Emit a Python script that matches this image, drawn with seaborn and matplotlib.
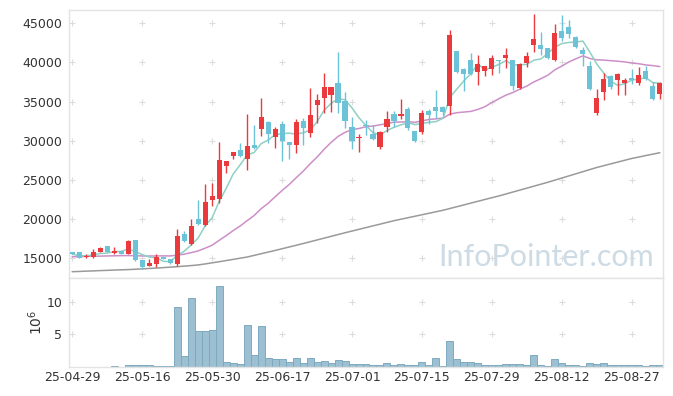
import numpy as np
import pandas as pd
import matplotlib
matplotlib.use("Agg")
import matplotlib.pyplot as plt
import seaborn as sns

# ---------------- data ----------------
holidays = ["2025-05-01", "2025-05-05", "2025-05-06", "2025-06-03", "2025-06-06", "2025-08-15"]
dates = pd.bdate_range("2025-04-29", "2025-09-02")
dates = dates[~dates.isin(pd.to_datetime(holidays))]

opens = [15770, 15750, 15200, 15170, 15770, 16550, 15720, 15900, 15550, 17300,
         14750, 14050, 14300, 15150, 14900, 14300, 18100, 16850, 20000, 19300,
         22400, 22530, 26830, 28100, 28830, 27710, 29460, 31470, 32400, 30520,
         32100, 29850, 29500, 32570, 31030, 34530, 35500, 35810, 37420, 35080,
         31800, 30400, 31950, 30830, 29250, 31720, 33420, 33170, 34000, 31250,
         31160, 33800, 34320, 34320, 34440, 41430, 39210, 40270, 38790, 38920,
         39120, 40300, 40530, 40270, 36700, 39980, 42240, 42190, 41840, 40270,
         44000, 44470, 43300, 41600, 39550, 33590, 36290, 38280, 37720, 37330,
         38020, 37420, 38920, 36960, 35980]
highs = [15800, 15800, 15550, 16130, 16400, 16550, 16400, 15950, 17350, 17300,
         14750, 14870, 15500, 15200, 14950, 18700, 18450, 20000, 22450, 24500,
         24575, 29890, 27450, 28600, 29680, 33420, 31980, 35430, 32500, 31800,
         32530, 29900, 32780, 32900, 36700, 35940, 38700, 36900, 41340, 36290,
         33080, 30870, 32600, 32020, 31300, 33800, 33840, 35290, 34300, 31300,
         33930, 34100, 36490, 34400, 44100, 41430, 39300, 41250, 40960, 39600,
         40900, 40320, 41900, 40300, 39900, 41400, 46230, 43900, 41900, 44870,
         46060, 45420, 43350, 42000, 40200, 36650, 38610, 38400, 38690, 38000,
         39210, 39400, 39600, 37500, 37500]
lows = [15550, 15050, 15000, 15100, 15770, 15800, 15550, 15500, 15500, 14650,
        13600, 14000, 13850, 14900, 14300, 14000, 17100, 16700, 19300, 19120,
        21680, 22000, 25850, 27630, 27900, 26270, 28900, 30610, 29680, 29040,
        27420, 27640, 28400, 29460, 30450, 32310, 33510, 33720, 33510, 31650,
        28910, 28610, 30740, 30100, 28990, 31160, 31720, 32740, 31400, 29900,
        30870, 32100, 32880, 33300, 33300, 38600, 36360, 38400, 37120, 38280,
        38400, 38700, 39340, 36490, 36600, 39400, 41340, 40900, 40500, 40200,
        42800, 43160, 41900, 39590, 36500, 33300, 35200, 36650, 35840, 35900,
        37300, 37100, 37700, 35200, 35330]
closes = [15550, 15080, 15350, 15770, 16300, 15800, 15970, 15600, 17200, 14750,
          13900, 14400, 15150, 14950, 14400, 17850, 17150, 19100, 19400, 22200,
          22950, 27550, 27380, 28570, 28100, 29340, 29120, 33000, 30900, 31500,
          30010, 29500, 32380, 31680, 33310, 35200, 36830, 36830, 34780, 32570,
          30010, 30500, 31850, 30270, 31160, 32780, 32570, 33420, 31590, 30010,
          33510, 33290, 33840, 33720, 43470, 38790, 38490, 38490, 39850, 39550,
          40610, 40250, 40910, 37030, 39760, 40830, 42960, 41680, 40610, 43700,
          43160, 43630, 42000, 41140, 36650, 35500, 37840, 36900, 38490, 37770,
          37770, 38440, 37840, 35340, 37330]
volume_m = [0.02, 0.02, 0.02, 0.02, 0.02, 0.02, 0.15, 0.02, 0.3, 0.3,
            0.3, 0.3, 0.15, 0.15, 0.15, 9.14, 1.62, 10.5, 5.46, 5.46,
            5.6, 12.4, 0.7, 0.55, 0.4, 6.38, 1.78, 6.22, 1.32, 1.17,
            1.17, 0.7, 1.32, 0.55, 1.32, 0.7, 0.86, 0.55, 1.0, 0.86,
            0.5, 0.5, 0.4, 0.25, 0.25, 0.55, 0.25, 0.4, 0.25, 0.25,
            0.7, 0.25, 1.32, 0.1, 3.92, 1.17, 0.7, 0.7, 0.55, 0.25,
            0.25, 0.25, 0.4, 0.4, 0.4, 0.25, 1.78, 0.25, 0.1, 1.17,
            0.55, 0.25, 0.25, 0.1, 0.55, 0.4, 0.55, 0.25, 0.25, 0.25,
            0.25, 0.25, 0.1, 0.25, 0.25]
# 20-day average before enough in-window history
ma20_head = [15200, 15220, 15240, 15260, 15280, 15300, 15320, 15340, 15350, 15330,
             15300, 15290, 15300, 15310, 15300, 15400, 15530, 15720, 15940]
# long moving average (grey)
ma_long = [13290, 13320, 13360, 13390, 13430, 13460, 13500, 13530, 13560, 13600,
           13650, 13700, 13750, 13810, 13870, 13930, 14000, 14070, 14150, 14280,
           14420, 14560, 14710, 14860, 15010, 15160, 15370, 15580, 15790, 16000,
           16220, 16440, 16660, 16880, 17110, 17340, 17570, 17800, 18030, 18260,
           18480, 18700, 18920, 19140, 19360, 19580, 19800, 19990, 20180, 20370,
           20560, 20750, 20940, 21130, 21360, 21590, 21820, 22050, 22280, 22510,
           22740, 22960, 23210, 23460, 23710, 23960, 24210, 24460, 24710, 24980,
           25250, 25520, 25790, 26060, 26330, 26600, 26830, 27060, 27290, 27520,
           27750, 27930, 28120, 28300, 28480]

# ---------------- derived ----------------
n = len(closes)
idx = np.arange(n)
df = pd.DataFrame({"i": idx, "open": opens, "high": highs, "low": lows,
                   "close": closes, "volume": np.array(volume_m) * 1e6})
df["ma5"] = df["close"].rolling(5, min_periods=1).mean()
ma20 = df["close"].rolling(20).mean()
ma20.iloc[:len(ma20_head)] = ma20_head
df["ma20"] = ma20
df["ma_long"] = ma_long
up = df["close"] >= df["open"]

RED = "#ea3a3e"
BLUE = "#6cc2d7"
TEAL = "#8fd0c4"
PINK = "#cc8fc8"
GREY = "#9a9a9a"
TXT = "#333333"
FRAME = "#e3e3e3"

sns.set_theme(style="white")
plt.rcParams["font.family"] = ["DejaVu Sans"]

fig = plt.figure(figsize=(6.73, 3.96), dpi=100)
ax = fig.add_axes([69 / 673, 1 - 278 / 396, (663 - 69) / 673, (278 - 10) / 396])
axv = fig.add_axes([69 / 673, 1 - 367 / 396, (663 - 69) / 673, (367 - 278) / 396], sharex=ax)

# grid "+" markers
xt = list(range(0, n, 10))
yt = [15000, 20000, 25000, 30000, 35000, 40000, 45000]
gx, gy = np.meshgrid(xt, yt)
ax.scatter(gx.ravel(), gy.ravel(), marker="+", s=22, color="#dcdcdc", linewidths=0.8, zorder=0)
gx2, gy2 = np.meshgrid(xt, [5e6, 10e6])
axv.scatter(gx2.ravel(), gy2.ravel(), marker="+", s=22, color="#dcdcdc", linewidths=0.8, zorder=0)

# watermark
ax.text(0.985, 0.08, "InfoPointer.com", transform=ax.transAxes, ha="right", va="center",
        fontsize=22, color="#cddbe5", family="Lato", zorder=1)

# moving averages
sns.lineplot(data=df, x="i", y="ma_long", ax=ax, color=GREY, lw=1.1, zorder=2)
sns.lineplot(data=df, x="i", y="ma20", ax=ax, color=PINK, lw=1.1, zorder=2)
sns.lineplot(data=df, x="i", y="ma5", ax=ax, color=TEAL, lw=1.1, zorder=2)

# candles
colors = np.where(up, RED, BLUE)
ax.vlines(df["i"], df["low"], df["high"], colors=colors, lw=1.0, zorder=3)
body_lo = np.minimum(df["open"], df["close"])
body_h = np.maximum(np.abs(df["close"] - df["open"]), 110)
ax.bar(df["i"], body_h, bottom=body_lo, width=0.72, color=colors, linewidth=0, zorder=4)

ax.set_xlim(-0.45, n - 1 + 0.45)
ax.set_ylim(12485, 46700)
ax.set_yticks(yt)
ax.set_yticklabels([str(v) for v in yt])
ax.set_xlabel("")
ax.set_ylabel("")
ax.tick_params(axis="y", length=0, pad=5, labelsize=9, labelcolor=TXT)
ax.tick_params(axis="x", length=0, labelbottom=False)

# volume
axv.bar(df["i"], df["volume"], width=1.0, color="#9cc0d1", edgecolor="#7eaac0", linewidth=0.7, zorder=2)
axv.set_ylim(0, 13.6e6)
axv.set_yticks([5e6, 10e6])
axv.set_yticklabels(["5", "10"])
axv.set_xticks(xt)
axv.set_xticklabels([dates[i].strftime("%y-%m-%d") for i in xt])
axv.tick_params(axis="both", length=0, labelsize=9, labelcolor=TXT)
axv.tick_params(axis="y", pad=5)
axv.tick_params(axis="x", pad=3)
axv.set_ylabel(r"$10^6$", fontsize=10, color=TXT, labelpad=1)

for a in (ax, axv):
    for s in a.spines.values():
        s.set_color(FRAME)
        s.set_linewidth(1.0)

fig.savefig("out.png", dpi=100)
